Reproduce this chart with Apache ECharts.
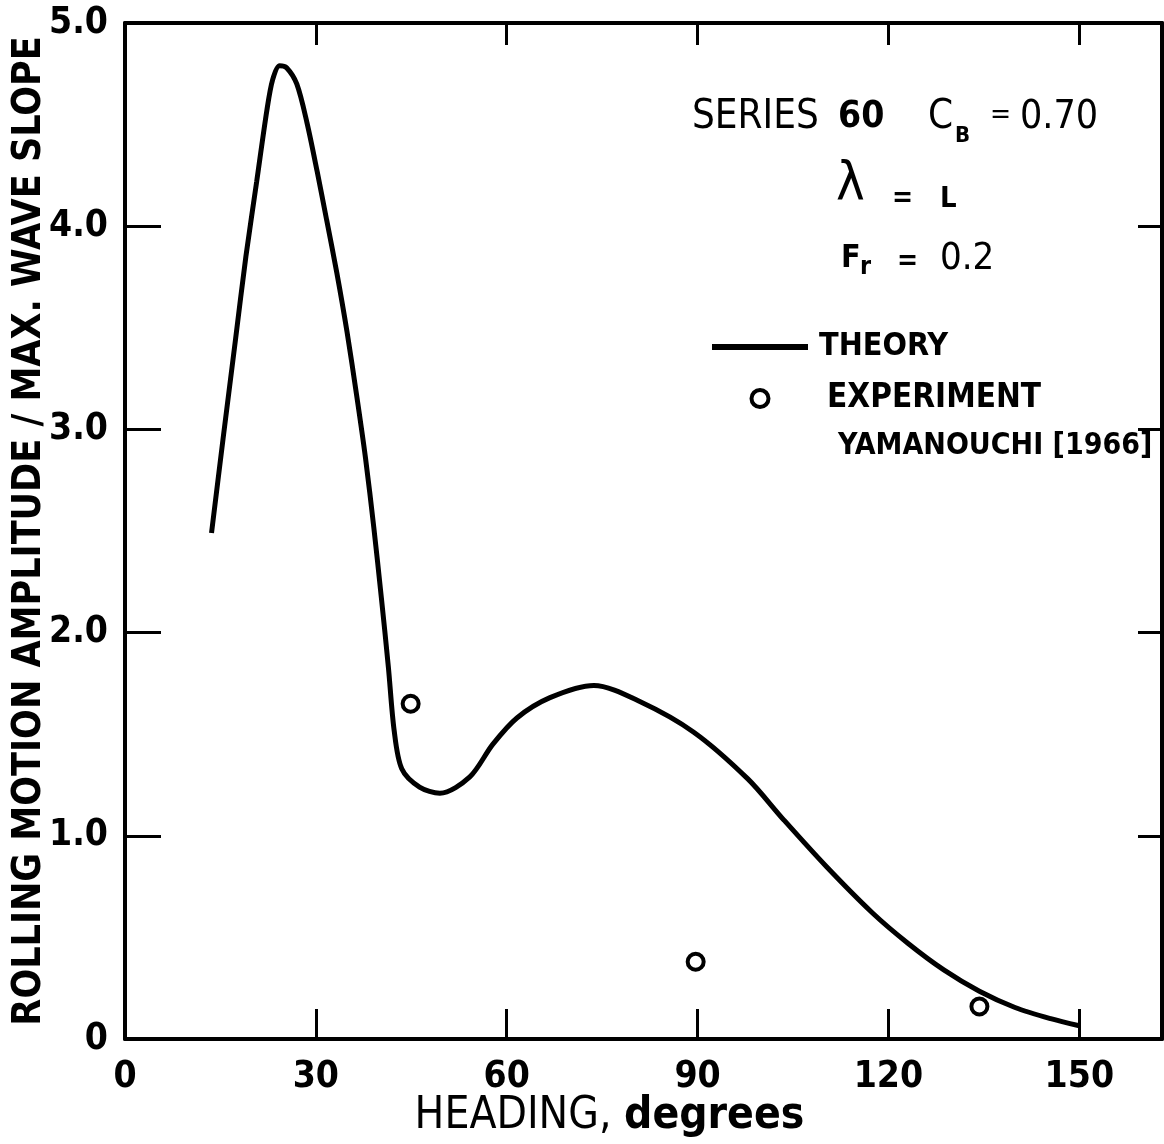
<!DOCTYPE html>
<html>
<head>
<meta charset="utf-8">
<style>
  html, body { margin: 0; padding: 0; background: #fff; }
  #main { width: 1164px; height: 1144px; }
</style>
<script src="https://cdn.jsdelivr.net/npm/echarts@6/dist/echarts.min.js"></script>
</head>
<body>
<div id="main"></div>
<script>
// theory curve (heading deg, amplitude ratio)
var theoryHeading = [13.6, 15.4, 17.4, 19.0, 20.7, 22.3, 23.2, 24.3, 25.4, 27.0, 28.6, 30.2, 31.7, 33.3, 34.9, 36.4,
  37.8, 39.1, 40.3, 41.4, 42.3, 43.5, 46.3, 49.5, 54.2, 57.8, 61.6, 66.8, 73.7, 81.0, 89.4, 97.9,
  103.5, 110.2, 117.5, 123.1, 128.7, 134.3, 139.9, 145.5, 150.0];
var theoryValue = [2.49, 2.95, 3.45, 3.85, 4.22, 4.57, 4.72, 4.79, 4.78, 4.70, 4.51, 4.27, 4.03, 3.77, 3.48, 3.17,
  2.86, 2.52, 2.17, 1.83, 1.52, 1.33, 1.24, 1.21, 1.29, 1.45, 1.58, 1.68, 1.74, 1.66, 1.51, 1.28,
  1.08, 0.85, 0.62, 0.47, 0.34, 0.235, 0.155, 0.10, 0.065];
// Yamanouchi experiment points
var expHeading = [44.9, 89.7, 134.3];
var expValue = [1.65, 0.38, 0.16];

var xTickLabels = ['0', '30', '60', '90', '120', '150'];
var yTickLabels = ['0', '1.0', '2.0', '3.0', '4.0', '5.0'];

var FONT = '"DejaVu Sans Condensed", "DejaVu Sans", sans-serif';

var theory = theoryHeading.map(function (h, i) { return [h, theoryValue[i]]; });
var experiment = expHeading.map(function (h, i) { return [h, expValue[i]]; });

var chart = echarts.init(document.getElementById('main'));

function txt(x, y, s, size, bold) {
  return {
    type: 'text', x: x, y: y,
    style: {
      text: s, fill: '#000', verticalAlign: 'middle',
      font: (bold ? 'bold ' : '') + size + 'px ' + FONT
    }
  };
}

var axisBase = {
  type: 'value',
  axisLine: { show: true, onZero: false, lineStyle: { color: '#000', width: 4 } },
  splitLine: { show: false }
};

var ringStyle = { color: '#fff', borderColor: '#000', borderWidth: 4, opacity: 1 };

chart.setOption({
  backgroundColor: '#fff',
  animation: false,
  grid: { left: 125, right: 2, top: 23, bottom: 105, outerBoundsMode: 'none', containLabel: false },
  xAxis: [
    Object.assign({}, axisBase, {
      min: 0, max: 163, interval: 30, position: 'bottom',
      axisTick: { inside: true, length: 30, lineStyle: { color: '#000', width: 3 } },
      axisLabel: {
        margin: 20, color: '#000', fontSize: 37, fontWeight: 'bold', fontFamily: FONT, showMaxLabel: false,
        formatter: function (v) { return v % 30 === 0 ? xTickLabels[v / 30] : ''; }
      },
      name: '{a|HEADING, }{b|degrees}',
      nameLocation: 'middle',
      nameGap: 56,
      nameMoveOverlap: false,
      nameTextStyle: {
        padding: [0, 68, 0, 0],
        rich: {
          a: { fontSize: 44, fontFamily: FONT, color: '#000' },
          b: { fontSize: 44, fontFamily: FONT, fontWeight: 'bold', color: '#000' }
        }
      }
    }),
    Object.assign({}, axisBase, {
      min: 0, max: 163, interval: 30, position: 'top',
      axisTick: { inside: true, length: 22, lineStyle: { color: '#000', width: 3 } },
      axisLabel: { show: false }
    })
  ],
  yAxis: [
    Object.assign({}, axisBase, {
      min: 0, max: 5, interval: 1, position: 'left',
      axisTick: { inside: true, length: 36, lineStyle: { color: '#000', width: 3 } },
      axisLabel: {
        margin: 17, color: '#000', fontSize: 37, fontWeight: 'bold', fontFamily: FONT,
        formatter: function (v) { return yTickLabels[Math.round(v)]; }
      },
      name: 'ROLLING MOTION AMPLITUDE / MAX. WAVE SLOPE',
      nameLocation: 'middle',
      nameGap: 76,
      nameMoveOverlap: false,
      nameTextStyle: { fontSize: 39, fontWeight: 'bold', fontFamily: FONT, color: '#000' }
    }),
    Object.assign({}, axisBase, {
      min: 0, max: 5, interval: 1, position: 'right',
      axisTick: { inside: true, length: 24, lineStyle: { color: '#000', width: 3 } },
      axisLabel: { show: false }
    })
  ],
  legend: {
    orient: 'vertical',
    left: 712, top: 331, padding: 0,
    itemWidth: 96, itemHeight: 17, itemGap: 19,
    textStyle: { fontSize: 32, fontWeight: 'bold', fontFamily: FONT, color: '#000', lineHeight: 32 },
    data: [
      { name: 'THEORY', icon: 'path://M0,0H100V6H0Z', itemStyle: { color: '#000' }, textStyle: { padding: [0, 0, 0, 6] } },
      { name: 'EXPERIMENT', icon: 'circle', itemStyle: ringStyle, textStyle: { fontSize: 33, padding: [0, 0, 0, 14] } }
    ]
  },
  graphic: [
    txt(692, 118, 'SERIES', 40, false),
    txt(838, 117, '60', 37, true),
    txt(928, 118, 'C', 40, false),
    txt(955, 136, 'B', 22, true),
    txt(990, 116, '=', 28, false),
    txt(1020, 118, '0.70', 39, false),
    txt(836, 186, 'λ', 54, false),
    txt(892, 199, '=', 28, true),
    txt(940, 199, 'L', 29, true),
    txt(841, 259, 'F', 32, true),
    txt(860, 267, 'r', 25, true),
    txt(897, 262, '=', 28, true),
    txt(940, 259, '0.2', 38, false),
    txt(838, 446, 'YAMANOUCHI [1966]', 30, true)
  ],
  series: [
    {
      name: 'THEORY', type: 'line', data: theory,
      symbol: 'none', smooth: 0.3,
      lineStyle: { color: '#000', width: 5 },
      itemStyle: { color: '#000' }
    },
    {
      name: 'EXPERIMENT', type: 'scatter', data: experiment,
      symbol: 'circle', symbolSize: 16,
      itemStyle: ringStyle,
      emphasis: { disabled: true }
    }
  ]
});
</script>
</body>
</html>
